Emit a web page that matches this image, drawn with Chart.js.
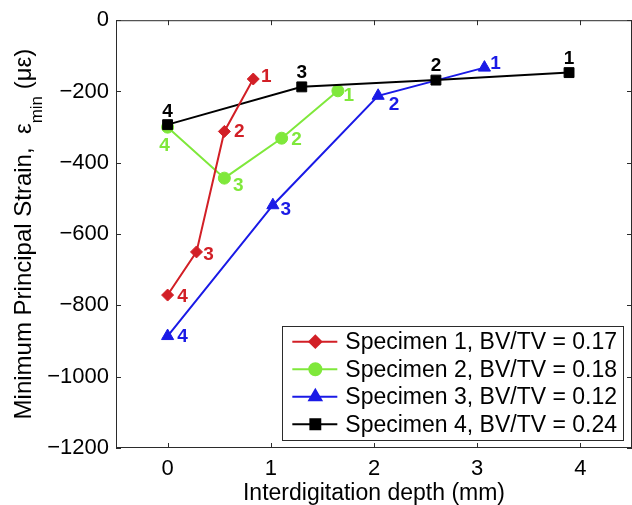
<!DOCTYPE html>
<html>
<head>
<meta charset="utf-8">
<script src="https://cdn.jsdelivr.net/npm/chart.js@4/dist/chart.umd.min.js"></script>
<style>
html, body { margin: 0; padding: 0; background: #fff; overflow: hidden; }
#wrap { width: 640px; height: 505px; }
</style>
</head>
<body>
<div id="wrap"><canvas id="strainChart"></canvas></div>
<script>
// values (depth in mm, strain in microstrain)
const xTicks = [0, 1, 2, 3, 4];
const s1Depth = [0.83, 0.55, 0.28, 0];
const s1Strain = [-165, -312, -650, -771];
const s2Depth = [1.65, 1.105, 0.55, 0];
const s2Strain = [-198, -331, -443, -300];
const s3Depth = [3.07, 2.04, 1.02, 0];
const s3Strain = [-133, -212, -519, -886];
const s4Depth = [3.89, 2.60, 1.30, 0];
const s4Strain = [-147, -168, -187, -293];
const pointNames = ['1', '2', '3', '4'];
const seriesNames = [
    'Specimen 1, BV/TV = 0.17',
    'Specimen 2, BV/TV = 0.18',
    'Specimen 3, BV/TV = 0.12',
    'Specimen 4, BV/TV = 0.24'
];
const xTitle = 'Interdigitation depth (mm)';

const FONT = '"Liberation Sans", Arial, Helvetica, sans-serif';

// where the little numbers sit next to each marker (dx, dy in px)
const labelOffsets = [
    [[13, -2], [15, 0], [12, 3], [15, 2]],
    [[11, 5], [15, 2], [14, 8], [-3, 19]],
    [[11, -4], [16, 9], [13, 5], [15, 1]],
    [[0, -14], [0, -14], [0, -14], [0, -13]]
];

function pts(xs, ys) {
    return xs.map((x, i) => ({ x: x, y: ys[i] }));
}

// frame + inward tick marks, matlab style
const framePlugin = {
    id: 'frame',
    afterDraw(chart) {
        const ctx = chart.ctx;
        const a = chart.chartArea;
        const xs = chart.scales.x, ys = chart.scales.y;
        ctx.save();
        ctx.strokeStyle = '#2b2b2b';
        ctx.lineWidth = 1;
        ctx.strokeRect(a.left + 0.5, a.top + 0.5, a.right - a.left - 1, a.bottom - a.top - 1);
        ctx.beginPath();
        xTicks.forEach(v => {
            const px = Math.round(xs.getPixelForValue(v)) + 0.5;
            ctx.moveTo(px, a.bottom); ctx.lineTo(px, a.bottom - 5);
            ctx.moveTo(px, a.top); ctx.lineTo(px, a.top + 5);
        });
        ys.ticks.forEach(t => {
            const py = Math.round(ys.getPixelForValue(t.value)) + 0.5;
            ctx.moveTo(a.left, py); ctx.lineTo(a.left + 5, py);
            ctx.moveTo(a.right, py); ctx.lineTo(a.right - 5, py);
        });
        ctx.stroke();
        ctx.restore();
    }
};

// numbers 1..4 next to the markers
const numberPlugin = {
    id: 'pointNumbers',
    afterDatasetsDraw(chart) {
        const ctx = chart.ctx;
        ctx.save();
        ctx.font = 'bold 19px ' + FONT;
        ctx.textAlign = 'center';
        ctx.textBaseline = 'middle';
        chart.data.datasets.forEach((ds, i) => {
            chart.getDatasetMeta(i).data.forEach((p, j) => {
                const off = labelOffsets[i][j];
                ctx.fillStyle = ds.borderColor;
                ctx.fillText(pointNames[j], p.x + off[0], p.y + off[1]);
            });
        });
        ctx.restore();
    }
};

// legend box in the lower right corner of the plot
const legendPlugin = {
    id: 'boxLegend',
    afterDraw(chart) {
        const ctx = chart.ctx;
        const a = chart.chartArea;
        ctx.save();
        ctx.font = '23px ' + FONT;
        let tw = 0;
        chart.data.datasets.forEach(ds => { tw = Math.max(tw, ctx.measureText(ds.label).width); });
        const w = 63 + tw + 6, h = 114;
        const right = a.right - 9, bottom = a.bottom - 8;
        const left = right - w, top = bottom - h;
        ctx.fillStyle = '#fff';
        ctx.fillRect(left, top, w, h);
        ctx.strokeStyle = '#2b2b2b';
        ctx.lineWidth = 1;
        ctx.strokeRect(Math.round(left) + 0.5, Math.round(top) + 0.5, Math.round(w), Math.round(h));
        chart.data.datasets.forEach((ds, i) => {
            const cy = top + 15.7 + i * 27.5;
            ctx.strokeStyle = ds.borderColor;
            ctx.fillStyle = ds.borderColor;
            ctx.lineWidth = 2;
            ctx.beginPath();
            ctx.moveTo(left + 10, cy); ctx.lineTo(left + 55, cy);
            ctx.stroke();
            Chart.helpers.drawPoint(ctx, {
                pointStyle: ds.pointStyle, radius: ds.pointRadius, rotation: 0, borderWidth: 1
            }, left + 33, cy);
            ctx.fillStyle = '#000';
            ctx.textAlign = 'left';
            ctx.textBaseline = 'middle';
            ctx.fillText(ds.label, left + 63, cy + 1);
        });
        ctx.restore();
    }
};

// rotated y title with the "min" subscript
const yTitlePlugin = {
    id: 'yTitle',
    afterDraw(chart) {
        const ctx = chart.ctx;
        const a = chart.chartArea;
        const parts = [
            ['Minimum Principal Strain,  \u03b5', '24px ' + FONT, 0],
            ['min', '17px ' + FONT, 13],
            [' (\u03bc\u03b5)', '24px ' + FONT, 0]
        ];
        ctx.save();
        let total = 0;
        parts.forEach(p => { ctx.font = p[1]; total += ctx.measureText(p[0]).width; });
        ctx.translate(24, (a.top + a.bottom) / 2);
        ctx.rotate(-Math.PI / 2);
        ctx.fillStyle = '#000';
        ctx.textAlign = 'left';
        ctx.textBaseline = 'middle';
        let x = -total / 2;
        parts.forEach(p => {
            ctx.font = p[1];
            ctx.fillText(p[0], x, p[2]);
            x += ctx.measureText(p[0]).width;
        });
        ctx.restore();
    }
};

const ctx = document.getElementById('strainChart').getContext('2d');
const strainChart = new Chart(ctx, {
    type: 'line',
    plugins: [framePlugin, numberPlugin, legendPlugin, yTitlePlugin],
    data: {
        datasets: [{
            label: seriesNames[0],
            data: pts(s1Depth, s1Strain),
            borderColor: '#d21f26',
            backgroundColor: '#d21f26',
            pointStyle: 'rectRot',
            pointRadius: 6,
            order: 0
        }, {
            label: seriesNames[1],
            data: pts(s2Depth, s2Strain),
            borderColor: '#7fe83b',
            backgroundColor: '#7fe83b',
            pointStyle: 'circle',
            pointRadius: 6,
            order: 3
        }, {
            label: seriesNames[2],
            data: pts(s3Depth, s3Strain),
            borderColor: '#1a1ae6',
            backgroundColor: '#1a1ae6',
            pointStyle: 'triangle',
            pointRadius: 7,
            order: 2
        }, {
            label: seriesNames[3],
            data: pts(s4Depth, s4Strain),
            borderColor: '#000000',
            backgroundColor: '#000000',
            pointStyle: 'rect',
            pointRadius: 7,
            order: 1
        }]
    },
    options: {
        responsive: true,
        maintainAspectRatio: false,
        animation: false,
        layout: { padding: { top: 19, right: 6, left: 0, bottom: 0 } },
        elements: {
            line: { borderWidth: 2, tension: 0, fill: false },
            point: { borderWidth: 1, hoverRadius: 6 }
        },
        scales: {
            x: {
                type: 'linear',
                min: -0.5,
                max: 4.5,
                afterBuildTicks: s => { s.ticks = xTicks.map(v => ({ value: v })); },
                afterFit: s => { s.height = 57; },
                grid: { display: false, drawTicks: false },
                border: { display: false },
                ticks: { color: '#000', font: { size: 22, family: FONT }, padding: 8, maxRotation: 0 },
                title: {
                    display: true,
                    text: xTitle,
                    color: '#000',
                    font: { size: 23, family: FONT, lineHeight: 1 },
                    padding: { top: 0, bottom: 0 }
                }
            },
            y: {
                min: -1200,
                max: 0,
                afterFit: s => { s.width = 116; },
                grid: { display: false, drawTicks: false },
                border: { display: false },
                ticks: {
                    stepSize: 200,
                    color: '#000',
                    font: { size: 22, family: FONT },
                    padding: 7,
                    callback: v => String(v).replace('-', '\u2212')
                }
            }
        },
        plugins: {
            legend: { display: false },
            tooltip: { enabled: false }
        }
    }
});
</script>
</body>
</html>
